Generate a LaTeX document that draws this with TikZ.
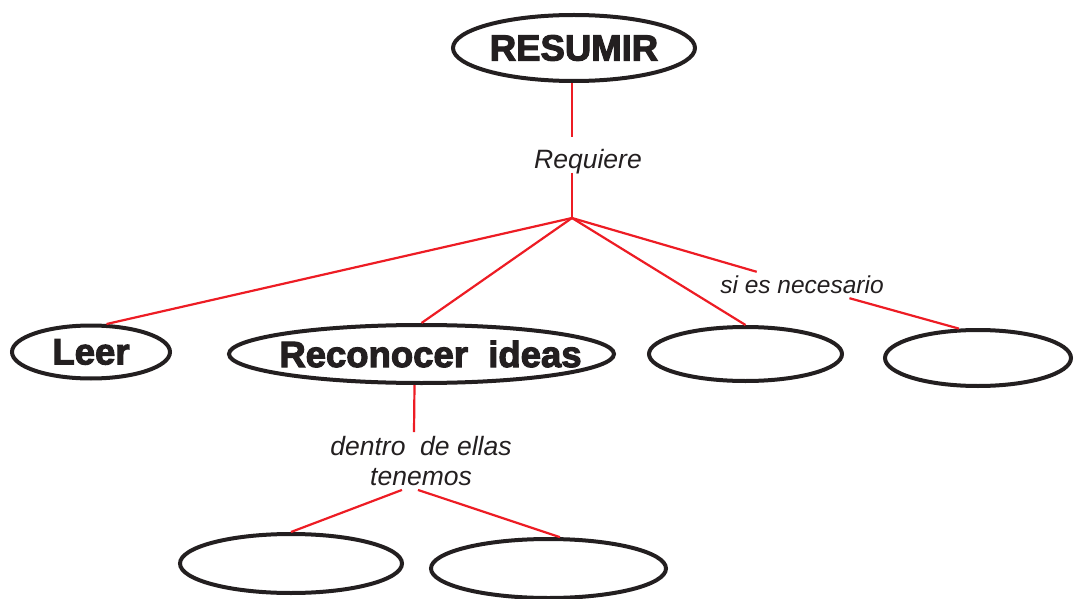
\documentclass[tikz,border=0pt]{standalone}
\usepackage{fontspec}
\setmainfont{Liberation Sans}
\newfontfamily\heavyfont[FakeBold=3]{Liberation Sans Bold}
\usetikzlibrary{shapes.geometric}
\definecolor{red3}{HTML}{ED1C24}
\definecolor{ink}{HTML}{231F20}

\begin{document}
\begin{tikzpicture}[x=1pt, y=-1pt, every node/.style={text=ink},
    idea/.style={ellipse, draw=ink, line width=4pt, inner sep=0pt,
      font=\heavyfont\fontsize{36.5}{40}\selectfont},
    lbl/.style={font=\fontsize{26.5}{30}\selectfont\itshape, inner sep=4pt, align=center},
    link/.style={red3, line width=2.2pt}]

    \useasboundingbox (0,0) rectangle (1074,599);

    % ellipses, placed at pixel positions of the sketch
    \node[idea, minimum width=242pt, minimum height=66pt] (resumir) at (574,48) {RESUMIR};
    \node[idea, minimum width=158pt, minimum height=53pt] (leer) at (91,352) {Leer};
    \node[idea, minimum width=385pt, minimum height=58pt] (recon) at (421.5,354)
      {\makebox[0pt]{\hspace{18pt}Reconocer~~ideas}};
    \node[idea, minimum width=193pt, minimum height=54pt] (vacio1) at (745.5,354) {};
    \node[idea, minimum width=186pt, minimum height=56pt] (vacio2) at (978,358) {};
    \node[idea, minimum width=222pt, minimum height=59pt] (vacio3) at (291,563.5) {};
    \node[idea, minimum width=235pt, minimum height=59pt] (vacio4) at (548.5,568.5) {};

    % linking words
    \coordinate (j) at (572,218);
    \node[lbl] (requiere) at (588,162) {Requiere};
    \node[lbl, font=\fontsize{24.5}{30}\selectfont\itshape] (sies) at (802,285) {si es necesario};
    \node[lbl] (dentro) at (421,461) {dentro~~de ellas\\tenemos};

    \draw[link] (resumir.south -| j) -- ([yshift=8pt]requiere.north -| j);
    \draw[link] ([yshift=6pt]requiere.south -| j) -- (j);

    \draw[link] (j) -- (leer.61);
    \draw[link] (j) -- (recon.north);
    \draw[link] (j) -- (vacio1.north);
    \draw[link] (j) -- (sies) -- (vacio2.123);

    \draw[link] ([xshift=-7pt]recon.south) -- ([xshift=-7pt]dentro.north);
    \draw[link] ([xshift=-19pt]dentro.south) -- (vacio3.north);
    \draw[link] ([xshift=-3pt]dentro.south) -- (vacio4.70);

\end{tikzpicture}
\end{document}
